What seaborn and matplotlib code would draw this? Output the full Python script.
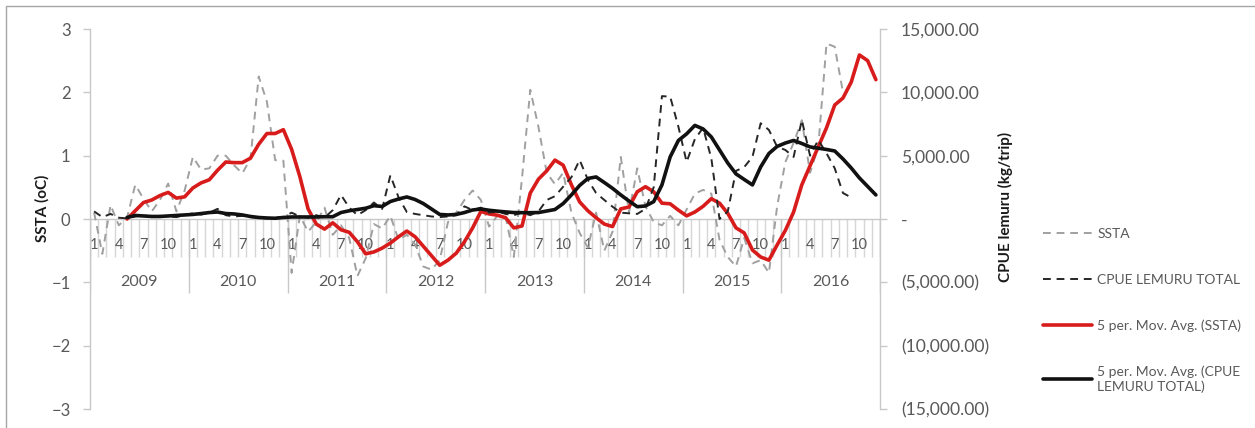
import numpy as np
import pandas as pd
import matplotlib
matplotlib.use("Agg")
import matplotlib.pyplot as plt
import seaborn as sns
from matplotlib.ticker import FuncFormatter
from matplotlib.lines import Line2D

# ---- data: monthly series, Jan 2009 .. Dec 2016 ----
years = [2009, 2010, 2011, 2012, 2013, 2014, 2015, 2016]
month_numbers = list(range(1, 13)) * len(years)
month_labels_shown = [1, 4, 7, 10]

# sea surface temperature anomaly (degC)
ssta = [
    0.10, -0.55, 0.22, -0.10, 0.02, 0.54, 0.32, 0.12, 0.30, 0.56, 0.12, 0.45,
    0.98, 0.78, 0.80, 1.00, 1.00, 0.85, 0.72, 0.95, 2.25, 1.85, 0.93, 0.92,
    -0.85, 0.05, -0.20, -0.05, 0.18, -0.25, -0.10, -0.30, -0.90, -0.62, -0.08, -0.15,
    0.05, -0.33, -0.25, -0.40, -0.75, -0.80, -0.65, -0.05, 0.10, 0.30, 0.45, 0.30,
    -0.12, 0.05, 0.04, -0.60, 0.65, 2.04, 1.45, 0.73, 0.55, 0.73, 0.10, -0.22,
    -0.45, 0.10, -0.50, -0.20, 0.98, 0.10, 0.80, 0.20, -0.05, -0.10, 0.05, -0.10,
    0.15, 0.40, 0.46, 0.40, -0.33, -0.60, -0.75, -0.30, -0.70, -0.65, -0.85, 0.20,
    0.90, 1.20, 1.56, 0.73, 1.14, 2.77, 2.72, 2.00, np.nan, np.nan, np.nan, np.nan,
]

# CPUE of lemuru, total (kg/trip)
cpue = [
    600, 150, 400, 100, 50, 200, 300, 150, 250, 200, 150, 300,
    450, 350, 500, 800, 300, 200, 250, 150, 100, 50, 100, 150,
    500, 200, 100, 300, 100, 700, 1900, 900, 300, 700, 1300, 800,
    3450, 1700, 550, 400, 300, 200, 150, 200, 300, 1000, 700, 900,
    500, 600, 400, 300, 500, 300, 600, 1500, 1800, 2550, 3300, 4660,
    3100, 2050, 1500, 970, 500, 450, 400, 800, 2500, 9700, 9660, 7290,
    4500, 6300, 7200, 4800, 0, 600, 3800, 4100, 4900, 7560, 7030, 5710,
    5450, 4900, 7800, 5000, 6240, 5190, 4000, 2050, 1700, np.nan, np.nan, np.nan,
]

# 5-period moving averages
ssta_ma5 = [
    np.nan, np.nan, np.nan, np.nan, 0.00, 0.13, 0.26, 0.30, 0.37, 0.42, 0.33, 0.35,
    0.49, 0.57, 0.62, 0.77, 0.90, 0.89, 0.89, 0.96, 1.18, 1.35, 1.35, 1.41,
    1.10, 0.67, 0.16, -0.08, -0.16, -0.06, -0.17, -0.21, -0.36, -0.55, -0.52, -0.46,
    -0.38, -0.28, -0.19, -0.28, -0.43, -0.58, -0.73, -0.65, -0.54, -0.36, -0.14, 0.12,
    0.08, 0.06, 0.02, -0.14, -0.11, 0.41, 0.63, 0.76, 0.93, 0.85, 0.54, 0.27,
    0.13, 0.02, -0.08, -0.12, 0.16, 0.19, 0.43, 0.51, 0.43, 0.25, 0.24, 0.14,
    0.05, 0.11, 0.20, 0.32, 0.25, 0.09, -0.14, -0.22, -0.49, -0.60, -0.65, -0.41,
    -0.18, 0.11, 0.54, 0.84, 1.14, 1.44, 1.80, 1.91, 2.16, 2.59, 2.50, 2.20,
]

cpue_ma5 = [
    np.nan, np.nan, np.nan, np.nan, 120, 280, 240, 200, 200, 240, 280, 320,
    360, 430, 510, 550, 430, 400, 320, 200, 120, 80, 60, 120,
    160, 160, 160, 160, 180, 180, 510, 650, 750, 850, 1050, 990,
    1380, 1580, 1740, 1540, 1220, 790, 360, 320, 360, 510, 710, 790,
    690, 620, 560, 510, 500, 500, 510, 630, 750, 1220, 1900, 2650,
    3200, 3320, 2880, 2420, 1900, 1420, 970, 1030, 1370, 2690, 4900, 6200,
    6720, 7390, 7110, 6480, 5450, 4420, 3560, 3120, 2690, 4110, 5170, 5730,
    6000, 6200, 5960, 5690, 5590, 5490, 5370, 4740, 4030, 3240, 2570, 1900,
]

df = pd.DataFrame({
    "t": np.arange(len(month_numbers)),
    "month": month_numbers,
    "ssta": ssta,
    "cpue": cpue,
    "ssta_ma5": ssta_ma5,
    "cpue_ma5": cpue_ma5,
})

# ---- style ----
sns.set_theme(style="white")
plt.rcParams["font.family"] = ["Lato", "DejaVu Sans"]
TXT = "#595959"
GRID = "#c8c8c8"

W, H = 1255, 428
fig = plt.figure(figsize=(W / 100, H / 100), dpi=100)
fig.patch.set_facecolor("white")
ax = fig.add_axes([90 / W, 1 - 409 / H, (880 - 90) / W, (409 - 29) / H])
ax2 = ax.twinx()

n = len(df)
ax.set_xlim(-0.5, n - 0.5)
ax.set_ylim(-3, 3)
ax2.set_ylim(-15000, 15000)

# category axis drawn at zero: month ticks and year groups
ax.axhline(0, color=GRID, lw=1, zorder=1)
ax.vlines(np.arange(n + 1) - 0.5, -0.60, 0, color="#d6d6d6", lw=1, zorder=0.5)
ax.vlines(np.arange(0, n + 1, 12) - 0.5, -1.17, 0, color=GRID, lw=1, zorder=0.5)
for i, m in enumerate(month_numbers):
    if m in month_labels_shown:
        ax.text(i, -0.41, str(m), ha="center", va="center", fontsize=10.5,
                color=TXT, zorder=0.6)
for k, yr in enumerate(years):
    ax.text(12 * k + 5.5, -1.0, str(yr), ha="center", va="center",
            fontsize=11.5, color=TXT)

# ---- series ----
dash = (0, (4, 3))
sns.lineplot(data=df.dropna(subset=["ssta"]), x="t", y="ssta", ax=ax,
             color="#a0a0a0", lw=1.4, linestyle=dash, estimator=None, zorder=3)
h_ssta = ax.lines[-1]
sns.lineplot(data=df.dropna(subset=["ssta_ma5"]), x="t", y="ssta_ma5", ax=ax,
             color="#d81c1c", lw=2.6, estimator=None, zorder=4)
h_ssta_ma = ax.lines[-1]
sns.lineplot(data=df.dropna(subset=["cpue"]), x="t", y="cpue", ax=ax2,
             color="#262626", lw=1.4, linestyle=dash, estimator=None, zorder=3)
h_cpue = ax2.lines[-1]
sns.lineplot(data=df.dropna(subset=["cpue_ma5"]), x="t", y="cpue_ma5", ax=ax2,
             color="#111111", lw=2.6, estimator=None, zorder=4)
h_cpue_ma = ax2.lines[-1]

# ---- axes ----
ax.set_xticks([])
ax.set_xlabel("")
ax.set_ylabel("")
ax2.set_ylabel("")
ax.set_yticks(range(-3, 4))
ax2.set_yticks(range(-15000, 15001, 5000))


def cpue_fmt(v, _pos):
    if v == 0:
        return "-"
    if v > 0:
        return f"{v:,.2f}"
    return f"({-v:,.2f})"


ax2.yaxis.set_major_formatter(FuncFormatter(cpue_fmt))

for sp in ("top", "bottom", "right"):
    ax.spines[sp].set_visible(False)
for sp in ("top", "bottom", "left"):
    ax2.spines[sp].set_visible(False)
ax.spines["left"].set_color(GRID)
ax2.spines["right"].set_color(GRID)
ax.spines["left"].set_linewidth(1)
ax2.spines["right"].set_linewidth(1)

ax.tick_params(axis="y", left=True, direction="out", length=5, width=1,
               color=GRID, labelcolor=TXT, labelsize=12, pad=9)
ax2.tick_params(axis="y", right=True, direction="out", length=5, width=1,
                color=GRID, labelcolor=TXT, labelsize=12.6, pad=10)

fig.text(42 / W, 1 - 208 / H, "SSTA (oC)", rotation=90, ha="center",
         va="center", fontsize=11, fontweight="bold", color="#1a1a1a")
fig.text(1005 / W, 1 - 207 / H, "CPUE lemuru (kg/trip)", rotation=90,
         ha="center", va="center", fontsize=11, fontweight="bold",
         color="#1a1a1a")

# ---- legend ----
fig.legend(
    [h_ssta, h_cpue, h_ssta_ma, h_cpue_ma],
    ["SSTA", "CPUE LEMURU TOTAL", "5 per. Mov. Avg. (SSTA)",
     "5 per. Mov. Avg. (CPUE\nLEMURU TOTAL)"],
    loc="upper left", bbox_to_anchor=(1043 / W, 1 - 228 / H),
    bbox_transform=fig.transFigure, frameon=False, fontsize=10,
    handlelength=3.5, handletextpad=0.4, labelspacing=2.42,
    borderpad=0, borderaxespad=0, labelcolor=TXT,
)

# chart area outline
fig.add_artist(Line2D([6 / W, 1], [1 - 6 / H, 1 - 6 / H],
                      transform=fig.transFigure, color="#a6a6a6", lw=1))
fig.add_artist(Line2D([6 / W, 6 / W], [0, 1 - 6 / H],
                      transform=fig.transFigure, color="#a6a6a6", lw=1))

fig.savefig("out.png", dpi=100)
